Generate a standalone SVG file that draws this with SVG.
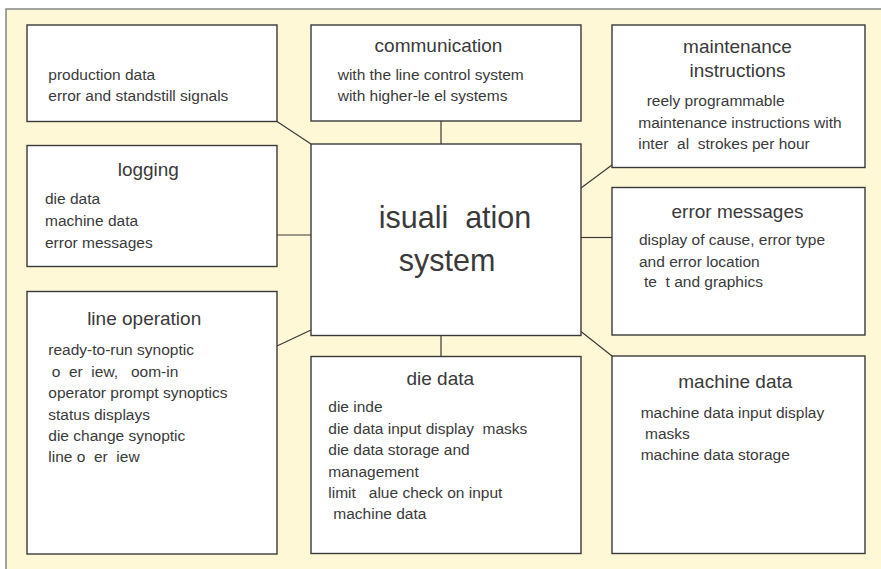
<svg xmlns="http://www.w3.org/2000/svg" width="881" height="569" viewBox="0 0 881 569">
<style>
.box{fill:#fff;stroke:#3a3a3a;stroke-width:1.4}
.conn line{stroke:#3a3a3a;stroke-width:1.2}
text{font-family:"Liberation Sans",Arial,sans-serif;fill:#3a3a3a;white-space:pre}
.t{font-size:19px;text-anchor:middle}
.b{font-size:15.5px}
.c{font-size:30.5px;text-anchor:middle}
</style>
<rect x="6" y="9" width="875" height="560" fill="#fff8d6"/>
<path d="M6,569 V9 H881" fill="none" stroke="#858585" stroke-width="1.5"/>
<g class="conn" id="connectors">
<line x1="277" y1="121.5" x2="311" y2="144"/>
<line x1="441" y1="121" x2="441" y2="144"/>
<line x1="277" y1="235" x2="311" y2="235"/>
<line x1="581" y1="188" x2="612" y2="165"/>
<line x1="581" y1="237.5" x2="612" y2="237.5"/>
<line x1="277" y1="346" x2="311" y2="330"/>
<line x1="441" y1="335.5" x2="441" y2="356.5"/>
<line x1="581" y1="331.5" x2="612" y2="356"/>
</g>
<g id="production">
<rect class="box" x="27" y="25" width="250" height="96.5"/>
<text class="b" x="48.3" y="79.5">production data</text>
<text class="b" x="48.3" y="100.5">error and standstill signals</text>
</g>
<g id="communication">
<rect class="box" x="311" y="25" width="270" height="96"/>
<text class="t" x="438.5" y="51.7">communication</text>
<text class="b" x="337.7" y="80">with the line control system</text>
<text class="b" x="337.7" y="100.5">with higher-le el systems</text>
</g>
<g id="maintenance">
<rect class="box" x="612" y="25" width="253" height="142.5"/>
<text class="t" x="737.5" y="53.3">maintenance</text>
<text class="t" x="737.5" y="76.7">instructions</text>
<text class="b" x="646.7" y="106">reely programmable</text>
<text class="b" x="638.3" y="127.7">maintenance instructions with</text>
<text class="b" x="638.3" y="149.3">inter  al  strokes per hour</text>
</g>
<g id="logging">
<rect class="box" x="27" y="145.5" width="250" height="121"/>
<text class="t" x="148.3" y="175.7">logging</text>
<text class="b" x="45" y="204">die data</text>
<text class="b" x="45" y="226">machine data</text>
<text class="b" x="45" y="247.5">error messages</text>
</g>
<g id="visualization">
<rect class="box" x="311" y="144" width="270" height="191.5"/>
<text class="c" x="455" y="228.3">isuali  ation</text>
<text class="c" x="447" y="270.7">system</text>
</g>
<g id="error-messages">
<rect class="box" x="612" y="187.5" width="253" height="147.5"/>
<text class="t" x="737.5" y="218.3">error messages</text>
<text class="b" x="639" y="245">display of cause, error type</text>
<text class="b" x="639" y="266.7">and error location</text>
<text class="b" x="644" y="287.3">te  t and graphics</text>
</g>
<g id="line-operation">
<rect class="box" x="27" y="291.5" width="250" height="262.5"/>
<text class="t" x="144.2" y="325">line operation</text>
<text class="b" x="48.3" y="355">ready-to-run synoptic</text>
<text class="b" x="51.7" y="376.7">o  er  iew,   oom-in</text>
<text class="b" x="48.3" y="398.3">operator prompt synoptics</text>
<text class="b" x="48.3" y="419.5">status displays</text>
<text class="b" x="48.3" y="441">die change synoptic</text>
<text class="b" x="48.3" y="462">line o  er  iew</text>
</g>
<g id="die-data">
<rect class="box" x="311" y="356.5" width="270" height="197"/>
<text class="t" x="440.3" y="385">die data</text>
<text class="b" x="328.3" y="412.3">die inde</text>
<text class="b" x="328.3" y="433.5">die data input display  masks</text>
<text class="b" x="328.3" y="455">die data storage and</text>
<text class="b" x="328.3" y="476.7">management</text>
<text class="b" x="328.3" y="497.7">limit   alue check on input</text>
<text class="b" x="333.3" y="518.5">machine data</text>
</g>
<g id="machine-data">
<rect class="box" x="612" y="356" width="253" height="197.5"/>
<text class="t" x="735.3" y="388.3">machine data</text>
<text class="b" x="640.7" y="417.7">machine data input display</text>
<text class="b" x="645" y="438.5">masks</text>
<text class="b" x="640.7" y="460">machine data storage</text>
</g>
</svg>
